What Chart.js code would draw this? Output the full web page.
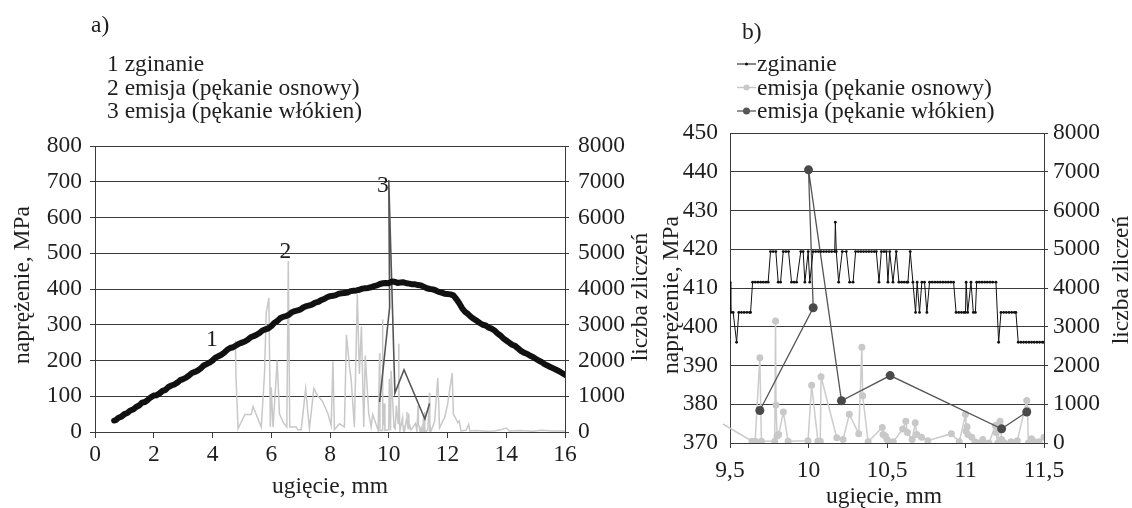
<!DOCTYPE html>
<html>
<head>
<meta charset="utf-8">
<script src="https://cdn.jsdelivr.net/npm/chart.js@4.4.1/dist/chart.umd.min.js"></script>
<style>
  html, body { margin: 0; padding: 0; background: #ffffff; }
  #wrap { position: relative; width: 1132px; height: 508px; overflow: hidden; }
  canvas { position: absolute; left: 0; top: 0; }
</style>
</head>
<body>
<div id="wrap">
  <canvas id="chartA" width="1132" height="508"></canvas>
  <canvas id="chartB" width="1132" height="508"></canvas>
</div>
<script>
// ---------------- DATA ----------------
// Panel a) bending curve (stress, MPa)
const aBendX = [0.65,0.7,0.8,0.9,1.0,1.1,1.2,1.3,1.4,1.5,1.6,1.7,1.8,1.9,2.0,2.1,2.2,2.3,2.4,2.5,2.6,2.7,2.8,2.9,3.0,3.1,3.2,3.3,3.4,3.5,3.6,3.7,3.8,3.9,4.0,4.1,4.2,4.3,4.4,4.5,4.6,4.7,4.8,4.9,5.0,5.1,5.2,5.3,5.4,5.5,5.6,5.7,5.8,5.9,6.0,6.1,6.2,6.3,6.4,6.5,6.6,6.7,6.8,6.9,7.0,7.1,7.2,7.3,7.4,7.5,7.6,7.7,7.8,7.9,8.0,8.1,8.2,8.3,8.4,8.5,8.6,8.7,8.8,8.9,9.0,9.1,9.2,9.3,9.4,9.5,9.6,9.7,9.8,9.9,10.0,10.1,10.2,10.3,10.4,10.5,10.6,10.7,10.8,10.9,11.0,11.1,11.2,11.3,11.4,11.5,11.6,11.7,11.8,11.9,12.0,12.1,12.2,12.3,12.4,12.5,12.6,12.7,12.8,12.9,13.0,13.1,13.2,13.3,13.4,13.5,13.6,13.7,13.8,13.9,14.0,14.1,14.2,14.3,14.4,14.5,14.6,14.7,14.8,14.9,15.0,15.1,15.2,15.3,15.4,15.5,15.6,15.7,15.8,15.9,16.0,16.1];
const aBendY = [32,33,40,43,50,53,60,63,70,74,82,84,90,97,102,103,108,115,118,126,130,133,138,145,148,152,158,165,168,172,178,186,190,194,200,208,212,216,222,230,235,237,242,247,250,253,258,265,268,272,277,284,287,290,296,305,310,318,322,324,328,335,338,340,343,349,352,354,357,362,364,369,372,377,380,381,383,387,388,389,390,394,395,396,398,401,402,403,405,408,410,414,416,417,416,421,420,417,418,419,416,415,413,413,411,410,406,402,400,399,396,392,390,387,386,385,382,372,360,346,336,330,322,316,311,305,300,298,292,289,284,276,270,262,256,250,244,241,234,227,222,219,214,210,205,200,196,190,186,182,178,174,170,165,160,155];

// Matrix cracking emission (counts) - before the detail window
const matrixEarlyX = [4.78,4.80,4.87,5.10,5.32,5.38,5.66,5.77,5.83,5.92,5.97,6.00,6.06,6.12,6.20,6.28,6.40,6.53,6.58,6.63,6.85,6.90,7.02,7.17,7.30,7.45,7.59,7.73,7.93,8.04,8.10,8.15,8.32,8.49,8.56,8.66,8.72,8.83,8.93,9.00,9.07,9.15,9.20,9.32,9.40];
const matrixEarlyY = [2550,1530,90,490,490,715,140,1620,3340,3750,140,1250,140,880,2000,510,280,140,4780,140,140,65,65,1200,90,1220,1000,880,510,185,1980,65,230,140,2720,1850,1470,140,3850,1620,2960,140,2140,510,140];

// Matrix cracking emission (counts) - detail window 9.5 - 11.5 mm
const matrixX = [9.455,9.640,9.660,9.690,9.700,9.785,9.790,9.793,9.800,9.810,9.840,9.870,9.997,10.020,10.060,10.075,10.080,10.180,10.220,10.260,10.320,10.340,10.345,10.380,10.470,10.475,10.490,10.500,10.510,10.540,10.600,10.620,10.630,10.660,10.680,10.690,10.720,10.760,10.910,10.960,11.000,11.003,11.010,11.015,11.040,11.060,11.080,11.110,11.120,11.150,11.190,11.195,11.205,11.220,11.230,11.250,11.290,11.330,11.390,11.395,11.400,11.420,11.440,11.470,11.500];
const matrixY = [490,45,45,2200,45,45,3150,980,180,220,800,45,60,1490,45,45,1710,135,90,740,240,2470,1220,30,400,220,180,90,30,30,360,560,270,90,520,220,150,60,240,30,740,310,420,220,150,30,0,90,0,0,450,270,0,560,90,0,30,60,1100,850,0,110,30,30,150];

// Matrix cracking emission (counts) - after the detail window
const matrixLateX = [11.56,11.67,11.73,11.90,12.00,12.16,12.20,12.27,12.35,12.40,12.46,12.63,12.72,12.76,13.0,13.3,13.6,13.8,14.0,14.1,14.5,14.9,15.2,15.6,16.0];
const matrixLateY = [300,1510,120,400,760,1650,490,400,260,310,30,50,210,30,40,20,30,60,110,30,40,20,50,30,30];

// Fibre cracking emission (counts)
const fibreX = [9.69,10.03,10.00,10.21,10.52,11.23,11.39];
const fibreY = [840,3490,7050,1090,1740,365,800];

// Panel b) bending curve detail (stress, MPa)
const bBendX = [9.500,9.505,9.520,9.542,9.556,9.573,9.590,9.607,9.624,9.631,9.644,9.661,9.678,9.695,9.712,9.729,9.743,9.758,9.775,9.792,9.807,9.822,9.839,9.856,9.873,9.892,9.908,9.924,9.951,9.966,9.977,9.998,10.008,10.029,10.046,10.063,10.080,10.097,10.114,10.131,10.148,10.167,10.171,10.177,10.192,10.215,10.241,10.262,10.284,10.300,10.317,10.334,10.351,10.368,10.385,10.402,10.419,10.432,10.449,10.464,10.481,10.496,10.506,10.517,10.538,10.559,10.576,10.593,10.610,10.627,10.633,10.648,10.665,10.682,10.692,10.707,10.722,10.739,10.754,10.771,10.788,10.805,10.822,10.839,10.856,10.873,10.890,10.907,10.924,10.940,10.957,10.974,10.990,11.000,11.004,11.014,11.035,11.050,11.063,11.071,11.088,11.105,11.122,11.139,11.156,11.173,11.194,11.211,11.226,11.243,11.260,11.277,11.294,11.311,11.321,11.336,11.353,11.370,11.387,11.404,11.421,11.438,11.455,11.472,11.489,11.500];
const bBendY = [411.5,403.7,403.7,396.0,403.7,403.7,403.7,403.7,403.7,403.7,411.5,411.5,411.5,411.5,411.5,411.5,411.5,419.4,419.4,419.4,411.5,411.5,419.4,419.4,419.4,411.5,411.5,411.5,419.4,419.4,411.5,419.4,411.5,419.4,419.4,419.4,419.4,419.4,419.4,419.4,419.4,419.4,427.0,419.4,411.5,419.4,419.4,411.5,411.5,419.4,419.4,419.4,419.4,419.4,419.4,419.4,419.4,419.4,411.5,419.4,419.4,419.4,411.5,419.4,411.5,419.4,411.5,411.5,411.5,411.5,411.5,419.4,411.5,403.7,411.5,403.7,411.5,411.5,403.7,411.5,411.5,411.5,411.5,411.5,411.5,411.5,411.5,411.5,411.5,403.7,403.7,403.7,403.7,403.7,411.5,403.7,411.5,403.7,403.7,411.5,411.5,411.5,411.5,411.5,411.5,411.5,411.5,396.0,403.7,403.7,403.7,403.7,403.7,403.7,403.7,396.0,396.0,396.0,396.0,396.0,396.0,396.0,396.0,396.0,396.0,396.0];

// Axis ranges / ticks
const aXTicks = [0, 16, 2];
const aYTicks = [0, 800, 100];
const aY2Ticks = [0, 8000, 1000];
const bXTicks = [9.5, 11.5, 0.5];
const bYTicks = [370, 450, 10];
const bY2Ticks = [0, 8000, 1000];

// Texts
const legendA = ['1 zginanie', '2 emisja (pękanie osnowy)', '3 emisja (pękanie włókien)'];
const legendB = ['zginanie', 'emisja (pękanie osnowy)', 'emisja (pękanie włókien)'];
const markLabels = ['1', '2', '3'];
const yTitle = 'naprężenie, MPa';
const y2Title = 'liczba zliczeń';
const xTitle = 'ugięcie, mm';

// ---------------- HELPERS ----------------
const pts = (xs, ys) => xs.map((x, i) => ({ x: x, y: ys[i] }));
const FONT = '"Liberation Serif", "Times New Roman", serif';
const TXT = '#1e1e1e';
const GRID = '#3a3a3a';
const FS = 23.5;
const tickFont = { family: FONT, size: FS };
const comma = v => String(v).replace('.', ',');
Chart.defaults.font.family = FONT;
Chart.defaults.color = TXT;

function yAxis(pos, rng, width, gridOn, tickLen, pad, cb) {
  return {
    type: 'linear', position: pos, min: rng[0], max: rng[1],
    ticks: { stepSize: rng[2], font: tickFont, color: TXT, padding: pad, callback: cb || (v => String(v)) },
    grid: { display: true, drawOnChartArea: gridOn, drawTicks: true, tickLength: tickLen, color: GRID, lineWidth: 1 },
    border: { display: true, color: GRID, width: 1 },
    afterFit: s => { s.width = width; }
  };
}
function xAxis(rng, height, tickLen, pad, cb) {
  return {
    type: 'linear', position: 'bottom', min: rng[0], max: rng[1],
    ticks: { stepSize: rng[2], font: tickFont, color: TXT, padding: pad, maxRotation: 0, callback: cb || (v => String(v)) },
    grid: { display: true, drawOnChartArea: false, drawTicks: true, tickLength: tickLen, color: GRID },
    border: { display: true, color: GRID, width: 1 },
    afterFit: s => { s.height = height; }
  };
}
function text(ctx, str, x, y, size, align, rot) {
  ctx.save();
  ctx.font = size + 'px ' + FONT;
  ctx.fillStyle = TXT;
  ctx.textAlign = align || 'left';
  ctx.textBaseline = rot ? 'middle' : 'alphabetic';
  ctx.translate(x, y);
  if (rot) ctx.rotate(rot);
  ctx.fillText(str, 0, 0);
  ctx.restore();
}

// ---------------- PANEL A ----------------
const decorA = {
  id: 'decorA',
  afterDraw(chart) {
    const ctx = chart.ctx;
    text(ctx, 'a)', 91, 32, FS);
    legendA.forEach((t, i) => text(ctx, t, 107, 71 + i * 23.5, FS));
    text(ctx, yTitle, 23, 285, FS, 'center', -Math.PI / 2);
    text(ctx, y2Title, 641, 297, FS, 'center', -Math.PI / 2);
    text(ctx, xTitle, 330, 493, FS, 'center');
    const sx = chart.scales.x, sy = chart.scales.y;
    const marks = [[3.98, 240], [6.48, 486], [9.8, 672]];
    marks.forEach((m, i) => text(ctx, markLabels[i], sx.getPixelForValue(m[0]), sy.getPixelForValue(m[1]), FS, 'center'));
  }
};

new Chart(document.getElementById('chartA'), {
  type: 'scatter',
  data: {
    datasets: [
      { label: legendA[0], data: pts(aBendX, aBendY), yAxisID: 'y', showLine: true, borderColor: '#111111', borderWidth: 6, pointRadius: 0, order: 0, borderJoinStyle: 'round', borderCapStyle: 'round' },
      { label: legendA[2], data: pts(fibreX, fibreY), yAxisID: 'y2', showLine: true, borderColor: '#555555', borderWidth: 1.6, pointRadius: 0, order: 1 },
      { label: legendA[1], data: pts(matrixEarlyX.concat(matrixX, matrixLateX), matrixEarlyY.concat(matrixY, matrixLateY)), yAxisID: 'y2', showLine: true, borderColor: '#c8c8c8', borderWidth: 1.5, pointRadius: 0, order: 2 }
    ]
  },
  options: {
    responsive: false, animation: false, devicePixelRatio: 1,
    layout: { padding: { top: 146, left: 0, right: 0, bottom: 0 } },
    plugins: { legend: { display: false }, tooltip: { enabled: false } },
    scales: {
      x: xAxis(aXTicks, 76, 6, 3),
      y: yAxis('left', aYTicks, 95, true, 5, 8),
      y2: yAxis('right', aY2Ticks, 567, false, 4, 9)
    }
  },
  plugins: [decorA]
});

// ---------------- PANEL B ----------------
const decorB = {
  id: 'decorB',
  afterDraw(chart) {
    const ctx = chart.ctx;
    text(ctx, 'b)', 742, 39, FS);
    const sym = [
      { c: '#111111', r: 1.5, w: 1 },
      { c: '#c8c8c8', r: 3, w: 1.5 },
      { c: '#555555', r: 3.5, w: 1.3 }
    ];
    legendB.forEach((t, i) => {
      const by = 71 + i * 23.5;
      const cy = by - 7;
      ctx.save();
      ctx.strokeStyle = sym[i].c; ctx.lineWidth = sym[i].w;
      ctx.beginPath(); ctx.moveTo(737, cy); ctx.lineTo(756, cy); ctx.stroke();
      ctx.fillStyle = sym[i].c;
      ctx.beginPath(); ctx.arc(746.5, cy, sym[i].r, 0, Math.PI * 2); ctx.fill();
      ctx.restore();
      text(ctx, t, 757, by, FS);
    });
    text(ctx, yTitle, 672, 295, FS, 'center', -Math.PI / 2);
    text(ctx, y2Title, 1122, 280, FS, 'center', -Math.PI / 2);
    text(ctx, xTitle, 884, 503, FS, 'center');
  }
};

new Chart(document.getElementById('chartB'), {
  type: 'scatter',
  data: {
    datasets: [
      { label: legendB[0], data: pts(bBendX, bBendY), yAxisID: 'y', showLine: true, borderColor: '#111111', backgroundColor: '#111111', borderWidth: 1, pointRadius: 1.4, pointBorderWidth: 0, order: 0 },
      { label: legendB[2], data: pts(fibreX, fibreY), yAxisID: 'y2', showLine: true, borderColor: '#555555', backgroundColor: '#4a4a4a', borderWidth: 1.3, pointRadius: 4.5, pointBorderWidth: 0, order: 1 },
      { label: legendB[1], data: pts(matrixX, matrixY), yAxisID: 'y2', showLine: true, borderColor: '#cccccc', backgroundColor: '#c8c8c8', borderWidth: 1.5,
        pointRadius: c => (c.dataIndex === 0 ? 0 : 3.5), pointBorderWidth: 0, order: 2, clip: { left: 8, top: 0, right: 0, bottom: 0 } }
    ]
  },
  options: {
    responsive: false, animation: false, devicePixelRatio: 1,
    layout: { padding: { top: 133, left: 0, right: 0, bottom: 0 } },
    plugins: { legend: { display: false }, tooltip: { enabled: false } },
    scales: {
      x: xAxis(bXTicks, 65, 5, 9, comma),
      y: yAxis('left', bYTicks, 730, true, 0, 12),
      y2: yAxis('right', bY2Ticks, 88, false, 4, 5)
    }
  },
  plugins: [decorB]
});
</script>
</body>
</html>
